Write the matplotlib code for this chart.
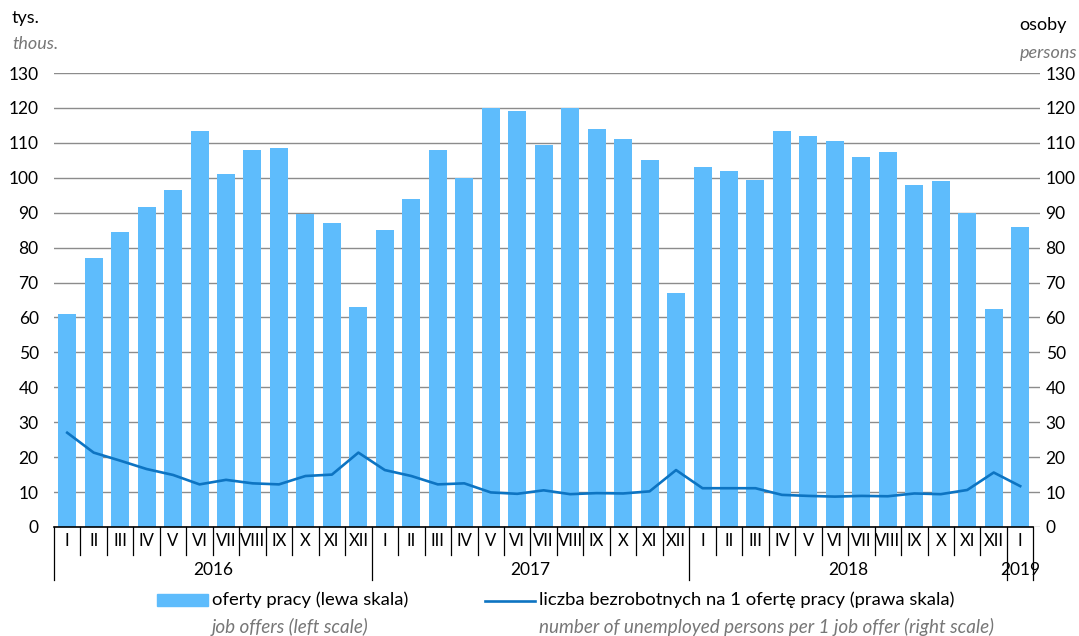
import numpy as np
import matplotlib.pyplot as plt
from matplotlib.patches import Rectangle
from matplotlib.lines import Line2D
import matplotlib.transforms as mtransforms

plt.rcParams['font.family'] = ['Lato', 'DejaVu Sans']

months = ['I', 'II', 'III', 'IV', 'V', 'VI', 'VII', 'VIII', 'IX', 'X', 'XI', 'XII']
years = ['2016', '2017', '2018', '2019']
month_labels = months * 3 + ['I']

# oferty pracy, tys.
job_offers = [61, 77, 84.5, 91.5, 96.5, 113.5, 101, 108, 108.5, 89.5, 87, 63,
              85, 94, 108, 100, 120, 119, 109.5, 120, 114, 111, 105, 67,
              103, 102, 99.5, 113.5, 112, 110.5, 106, 107.5, 98, 99, 90, 62.5,
              86]
# bezrobotni na 1 oferte
unemployed_per_offer = [27.0, 21.3, 19.0, 16.6, 14.9, 12.2, 13.5, 12.5, 12.2, 14.6, 15.0, 21.3,
                        16.3, 14.6, 12.2, 12.5, 9.9, 9.5, 10.5, 9.4, 9.7, 9.6, 10.2, 16.3,
                        11.1, 11.1, 11.1, 9.2, 8.9, 8.7, 8.9, 8.8, 9.6, 9.4, 10.6, 15.6,
                        11.7]

bar_color = '#5ebcfc'
line_color = '#0d74c2'
grid_color = '#8c8c8c'

fig = plt.figure(figsize=(10.79, 6.36), dpi=100)
ax = fig.add_axes([0.05, 0.1714, 0.9139, 0.7138])
ax2 = ax.twinx()

x = np.arange(len(job_offers))
ax.bar(x, job_offers, width=0.68, color=bar_color, zorder=2)
ax2.plot(x, unemployed_per_offer, color=line_color, linewidth=1.9, zorder=3)

for a in (ax, ax2):
    a.set_ylim(0, 130)
    a.set_yticks(range(0, 131, 10))
    for s in a.spines.values():
        s.set_visible(False)
    a.tick_params(axis='y', length=0, labelsize=12.5)
ax.set_xlim(-0.5, 36.75)
ax.yaxis.grid(True, color=grid_color, linewidth=1.0)
ax.set_axisbelow(True)
ax.set_xticks([])
ax2.set_xticks([])
ax.tick_params(axis='y', pad=11)
ax2.tick_params(axis='y', pad=4)
ax.set_zorder(1)
ax2.set_zorder(2)
ax2.patch.set_visible(False)

# x axis: baseline, month separators, labels
trans = mtransforms.blended_transform_factory(ax.transData, ax.transAxes)
ax.plot([-0.5, 36.5], [0, 0], transform=trans, color='black', linewidth=1.2, clip_on=False, zorder=5)
year_edges = [-0.5, 11.5, 23.5, 35.5, 36.5]
for i in range(len(month_labels) + 1):
    xe = i - 0.5
    depth = -0.117 if xe in year_edges else -0.062
    ax.plot([xe, xe], [0, depth], transform=trans, color='black', linewidth=0.9,
            clip_on=False, zorder=5)
for i, lab in enumerate(month_labels):
    ax.text(i, -0.031, lab, transform=trans, ha='center', va='center', fontsize=12)
year_centers = [5.5, 17.5, 29.5, 36]
for yc, yl in zip(year_centers, years):
    ax.text(yc, -0.094, yl, transform=trans, ha='center', va='center', fontsize=12.5)

# axis units
fig.text(12 / 1079, 1 - 18 / 636, 'tys.', fontsize=13, ha='left', va='center')
fig.text(12 / 1079, 1 - 44 / 636, 'thous.', fontsize=13, ha='left', va='center',
         style='italic', color='#777777')
fig.text(1067 / 1079, 1 - 25 / 636, 'osoby', fontsize=13, ha='right', va='center')
fig.text(1077 / 1079, 1 - 53 / 636, 'persons', fontsize=13, ha='right', va='center',
         style='italic', color='#777777')

# legend
fig.patches.append(Rectangle((157 / 1079, 1 - 606 / 636), 51 / 1079, 12 / 636,
                             transform=fig.transFigure, color=bar_color))
fig.text(212 / 1079, 1 - 600 / 636, 'oferty pracy (lewa skala)', fontsize=13.3, va='center')
fig.text(212 / 1079, 1 - 627 / 636, 'job offers (left scale)', fontsize=13.6, va='center',
         style='italic', color='#777777')
fig.lines.append(Line2D([485 / 1079, 535 / 1079], [1 - 601 / 636, 1 - 601 / 636],
                        transform=fig.transFigure, color=line_color, linewidth=1.9))
fig.text(539 / 1079, 1 - 600 / 636, 'liczba bezrobotnych na 1 ofertę pracy (prawa skala)',
         fontsize=13.3, va='center')
fig.text(539 / 1079, 1 - 627 / 636, 'number of unemployed persons per 1 job offer (right scale)',
         fontsize=13.6, va='center', style='italic', color='#777777')

fig.savefig('out.png', dpi=100)
